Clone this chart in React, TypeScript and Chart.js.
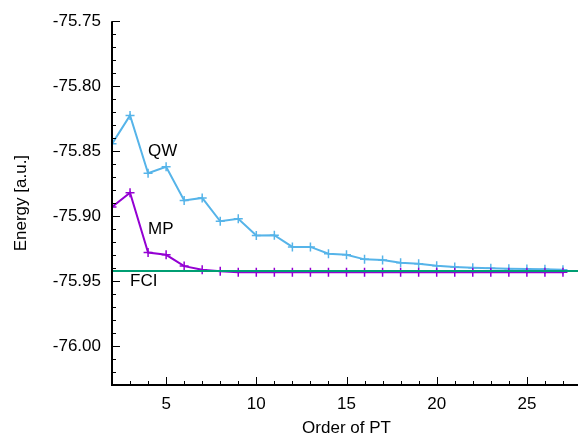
import React, { useEffect, useRef } from "react";
import { Chart, registerables } from "chart.js";

Chart.register(...registerables);

const orders = [2, 3, 4, 5, 6, 7, 8, 9, 10, 11, 12, 13, 14, 15, 16, 17, 18, 19, 20, 21, 22, 23, 24, 25, 26, 27];
const qwEnergy = [
  -75.8444, -75.8225, -75.867, -75.862, -75.888, -75.886, -75.904, -75.902, -75.915, -75.9147,
  -75.9237, -75.9237, -75.929, -75.9298, -75.9333, -75.9338, -75.9359, -75.9367, -75.9382, -75.9392,
  -75.9397, -75.9402, -75.9405, -75.9407, -75.941, -75.9413,
];
const mpEnergy = [
  -75.893, -75.882, -75.928, -75.9298, -75.9385, -75.9413, -75.9425, -75.9433, -75.9433, -75.9433,
  -75.9433, -75.9433, -75.9433, -75.9433, -75.9433, -75.9433, -75.9433, -75.9433, -75.9433, -75.9433,
  -75.9433, -75.9433, -75.9433, -75.9433, -75.9433, -75.9433,
];
const fciEnergy = -75.9422;
const fciRange = [2, 28];

const xMajorTicks = [5, 10, 15, 20, 25];
const xMinorTicks = [2, 3, 4, 6, 7, 8, 9, 11, 12, 13, 14, 16, 17, 18, 19, 21, 22, 23, 24, 26, 27, 28];
const yMajorTicks = [-75.75, -75.8, -75.85, -75.9, -75.95, -76.0];
const yMinorTicks = [
  -75.76, -75.77, -75.78, -75.79, -75.81, -75.82, -75.83, -75.84, -75.86, -75.87, -75.88, -75.89,
  -75.91, -75.92, -75.93, -75.94, -75.96, -75.97, -75.98, -75.99, -76.01, -76.02,
];

const labels = [
  { text: "QW", x: 4, y: -75.85 },
  { text: "MP", x: 4, y: -75.91 },
  { text: "FCI", x: 3, y: -75.95 },
];

const FONT = "'Liberation Sans', Arial, Helvetica, sans-serif";
const QW_COLOR = "#56B4E9";
const MP_COLOR = "#9400D3";
const FCI_COLOR = "#009E73";

const axesPlugin = {
  id: "gnuAxes",
  afterDatasetsDraw(chart: any) {
    const { ctx, chartArea, scales } = chart;
    const xs = scales.x;
    const ys = scales.y;
    ctx.save();
    ctx.strokeStyle = "#000";
    ctx.lineWidth = 1;
    const drawX = (vals: number[], len: number) => {
      vals.forEach((v) => {
        const px = Math.round(xs.getPixelForValue(v)) + 0.5;
        ctx.beginPath();
        ctx.moveTo(px, chartArea.bottom);
        ctx.lineTo(px, chartArea.bottom - len);
        ctx.stroke();
      });
    };
    const drawY = (vals: number[], len: number) => {
      vals.forEach((v) => {
        const py = Math.round(ys.getPixelForValue(v)) + 0.5;
        ctx.beginPath();
        ctx.moveTo(chartArea.left, py);
        ctx.lineTo(chartArea.left + len, py);
        ctx.stroke();
      });
    };
    drawX(xMajorTicks, 8);
    drawX(xMinorTicks, 4);
    drawY(yMajorTicks, 8);
    drawY(yMinorTicks, 4);
    ctx.lineWidth = 2;
    ctx.beginPath();
    ctx.moveTo(chartArea.left, chartArea.top);
    ctx.lineTo(chartArea.left, chartArea.bottom);
    ctx.lineTo(chartArea.right + 2, chartArea.bottom);
    ctx.stroke();

    ctx.fillStyle = "#000";
    ctx.font = `17px ${FONT}`;
    ctx.textAlign = "left";
    ctx.textBaseline = "middle";
    labels.forEach((l) => {
      ctx.fillText(l.text, xs.getPixelForValue(l.x), ys.getPixelForValue(l.y));
    });
    ctx.restore();
  },
};

export default function App() {
  const ref = useRef<HTMLCanvasElement>(null);
  useEffect(() => {
    if (!ref.current) return;
    const chart = new Chart(ref.current, {
      type: "line",
      data: {
        datasets: [
          {
            label: "FCI",
            data: fciRange.map((x) => ({ x, y: fciEnergy })),
            borderColor: FCI_COLOR,
            borderWidth: 2,
            pointRadius: 0,
            order: 0,
          },
          {
            label: "MP",
            data: orders.map((x, i) => ({ x, y: mpEnergy[i] })),
            borderColor: MP_COLOR,
            backgroundColor: MP_COLOR,
            borderWidth: 2,
            pointStyle: "cross",
            pointRadius: 4.5,
            pointBorderWidth: 1.5,
            order: 1,
          },
          {
            label: "QW",
            data: orders.map((x, i) => ({ x, y: qwEnergy[i] })),
            borderColor: QW_COLOR,
            backgroundColor: QW_COLOR,
            borderWidth: 2,
            pointStyle: "cross",
            pointRadius: 4.5,
            pointBorderWidth: 1.5,
            order: 2,
          },
        ],
      },
      options: {
        responsive: false,
        animation: false,
        devicePixelRatio: 1,
        layout: { padding: { top: 21, right: 0, left: 0, bottom: 0 } },
        plugins: { legend: { display: false }, tooltip: { enabled: false } },
        scales: {
          x: {
            type: "linear",
            min: 2,
            max: 28,
            grid: { display: false, drawTicks: false },
            border: { display: false },
            afterBuildTicks: (s: any) => {
              s.ticks = xMajorTicks.map((v) => ({ value: v }));
            },
            afterFit: (s: any) => {
              s.height = 52;
            },
            ticks: {
              color: "#000",
              padding: 9,
              maxRotation: 0,
              font: { family: FONT, size: 17 },
              callback: (v: any) => String(v),
            },
            title: {
              display: true,
              text: "Order of PT",
              color: "#000",
              font: { family: FONT, size: 17, lineHeight: 1 },
              padding: { top: 0, bottom: 0 },
            },
          },
          y: {
            type: "linear",
            min: -76.03,
            max: -75.75,
            grid: { display: false, drawTicks: false },
            border: { display: false },
            afterBuildTicks: (s: any) => {
              s.ticks = yMajorTicks.map((v) => ({ value: v }));
            },
            afterFit: (s: any) => {
              s.width = 112;
            },
            ticks: {
              color: "#000",
              padding: 11,
              font: { family: FONT, size: 17 },
              callback: (v: any) => Number(v).toFixed(2),
            },
            title: {
              display: true,
              text: "Energy [a.u.]",
              color: "#000",
              font: { family: FONT, size: 17, lineHeight: 1.2 },
              padding: { top: 11, bottom: 0 },
            },
          },
        },
      },
      plugins: [axesPlugin],
    });
    return () => chart.destroy();
  }, []);
  return (
    <div
      style={{
        position: "absolute",
        left: 0,
        top: 0,
        width: 578,
        height: 437,
        overflow: "hidden",
        background: "#fff",
      }}
    >
      <canvas ref={ref} width={587} height={437} style={{ display: "block" }} />
    </div>
  );
}
